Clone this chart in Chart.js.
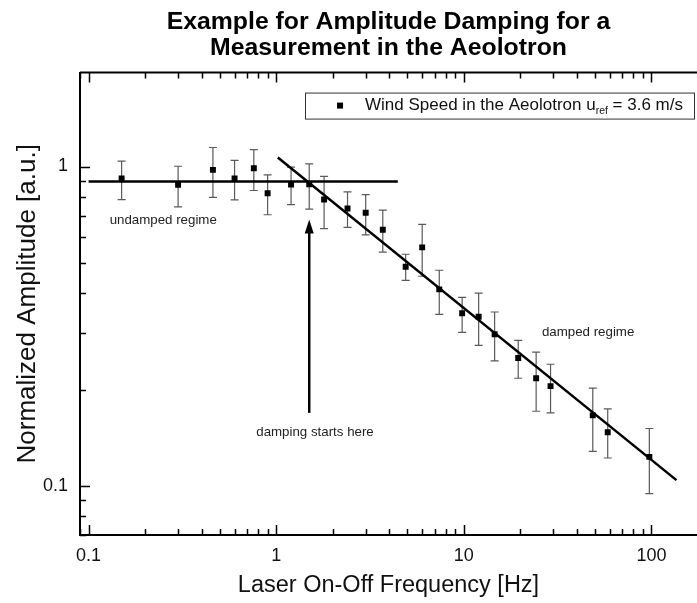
<!DOCTYPE html>
<html>
<head>
<meta charset="utf-8">
<script src="https://cdn.jsdelivr.net/npm/chart.js@4.4.1/dist/chart.umd.min.js"></script>
<style>
  html, body { margin: 0; padding: 0; background: #fff; overflow: hidden; }
  #wrap { position: relative; width: 697px; height: 603px; }
</style>
</head>
<body>
<div id="wrap"><canvas id="chart"></canvas></div>
<script>
// measured points (laser on-off frequency vs normalized amplitude)
const freq      = [0.15, 0.3, 0.46, 0.6, 0.76, 0.9, 1.2, 1.5, 1.8, 2.4, 3, 3.7, 4.9, 6, 7.4, 9.8, 12, 14.6, 19.5, 24.3, 29, 48.7, 58.5, 97.5];
const amplitude = [0.917, 0.876, 0.976, 0.917, 0.988, 0.825, 0.878, 0.880, 0.788, 0.739, 0.716, 0.634, 0.485, 0.558, 0.412, 0.347, 0.338, 0.298, 0.251, 0.217, 0.205, 0.166, 0.147, 0.123];
const ampHigh   = [1.039, 1.002, 1.147, 1.046, 1.13, 0.942, 0.995, 1.02, 0.932, 0.833, 0.817, 0.730, 0.531, 0.659, 0.473, 0.389, 0.401, 0.35, 0.285, 0.262, 0.24, 0.202, 0.174, 0.151];
const ampLow    = [0.788, 0.747, 0.80, 0.786, 0.841, 0.706, 0.76, 0.735, 0.639, 0.645, 0.611, 0.539, 0.44, 0.453, 0.344, 0.302, 0.275, 0.246, 0.217, 0.171, 0.169, 0.128, 0.122, 0.0944];

// fitted lines
const flatX  = [0.1, 4.45];
const flatY  = [0.897, 0.897];
const slopeX = [1.02, 136];
const slopeY = [1.067, 0.104];

// axis ticks
const xTickValues = [0.1, 1, 10, 100];
const xTickLabels = ['0.1', '1', '10', '100'];
const yTickValues = [0.1, 1];
const yTickLabels = ['0.1', '1'];

// annotations
const noteTexts = ['undamped regime', 'damped regime', 'damping starts here'];
const noteX = [0.25, 46, 1.61];
const noteY = [0.677, 0.302, 0.147];
const arrowX = [1.5, 1.5];
const arrowY = [0.169, 0.682];

const legendLabel = ['Wind Speed in the Aeolotron u', 'ref', ' = 3.6 m/s'];

const FONT = '"Liberation Sans", Arial, Helvetica, sans-serif';

function logTicks(min, max) {
    const out = [];
    for (let e = -2; e <= 3; e++) {
        for (let m = 1; m <= 9; m++) {
            const v = parseFloat((m * Math.pow(10, e)).toPrecision(6));
            if (v >= min && v <= max) out.push({ value: v });
        }
    }
    return out;
}

function findMajor(values, v) {
    return values.findIndex(t => Math.abs(t - v) < t * 1e-6);
}

const toPoints = (xs, ys) => xs.map((x, i) => ({ x: x, y: ys[i] }));

// error bars under the markers
const errorBars = {
    id: 'errorBars',
    beforeDatasetsDraw(chart) {
        const { ctx, scales: { x, y } } = chart;
        ctx.save();
        ctx.strokeStyle = '#5a5a5a';
        ctx.lineWidth = 1.2;
        freq.forEach((f, i) => {
            const px = x.getPixelForValue(f);
            const top = y.getPixelForValue(ampHigh[i]);
            const bot = y.getPixelForValue(ampLow[i]);
            ctx.beginPath();
            ctx.moveTo(px, top); ctx.lineTo(px, bot);
            ctx.moveTo(px - 4, top); ctx.lineTo(px + 4, top);
            ctx.moveTo(px - 4, bot); ctx.lineTo(px + 4, bot);
            ctx.stroke();
        });
        ctx.restore();
    }
};

// text notes, arrow, top frame line, inward ticks, legend box
const decorations = {
    id: 'decorations',
    afterDraw(chart) {
        const { ctx, chartArea: a, scales: { x, y } } = chart;
        ctx.save();

        // notes
        ctx.fillStyle = '#222';
        ctx.font = '13.3px ' + FONT;
        ctx.textAlign = 'center';
        ctx.textBaseline = 'middle';
        noteTexts.forEach((t, i) => {
            ctx.fillText(t, x.getPixelForValue(noteX[i]), y.getPixelForValue(noteY[i]));
        });

        // arrow
        const ax = x.getPixelForValue(arrowX[0]);
        const y0 = y.getPixelForValue(arrowY[0]);
        const y1 = y.getPixelForValue(arrowY[1]);
        ctx.strokeStyle = '#000';
        ctx.fillStyle = '#000';
        ctx.lineWidth = 2.5;
        ctx.beginPath();
        ctx.moveTo(ax, y0); ctx.lineTo(ax, y1 + 10);
        ctx.stroke();
        ctx.beginPath();
        ctx.moveTo(ax, y1); ctx.lineTo(ax - 4.5, y1 + 14); ctx.lineTo(ax + 4.5, y1 + 14);
        ctx.closePath();
        ctx.fill();

        // top frame
        ctx.lineWidth = 2;
        ctx.beginPath();
        ctx.moveTo(a.left, a.top); ctx.lineTo(a.right, a.top);
        ctx.stroke();

        // inward ticks
        ctx.lineWidth = 1.5;
        ctx.beginPath();
        x.ticks.forEach(t => {
            const px = Math.round(x.getPixelForValue(t.value)) + 0.5;
            const len = findMajor(xTickValues, t.value) >= 0 ? 10 : 6;
            ctx.moveTo(px, a.bottom); ctx.lineTo(px, a.bottom - len);
            ctx.moveTo(px, a.top); ctx.lineTo(px, a.top + len);
        });
        y.ticks.forEach(t => {
            const py = Math.round(y.getPixelForValue(t.value)) + 0.5;
            const len = findMajor(yTickValues, t.value) >= 0 ? 10 : 6;
            ctx.moveTo(a.left, py); ctx.lineTo(a.left + len, py);
        });
        ctx.stroke();

        // legend
        ctx.font = '17px ' + FONT;
        const w1 = ctx.measureText(legendLabel[0]).width;
        const w3 = ctx.measureText(legendLabel[2]).width;
        ctx.font = '10.5px ' + FONT;
        const w2 = ctx.measureText(legendLabel[1]).width;
        const boxW = 60 + w1 + w2 + w3 + 11;
        const boxR = a.right - 3;
        const boxL = boxR - boxW;
        const boxT = a.top + 20;
        const boxH = 26;
        ctx.lineWidth = 1;
        ctx.strokeStyle = '#333';
        ctx.strokeRect(Math.round(boxL) + 0.5, boxT + 0.5, Math.round(boxW), boxH);
        ctx.fillStyle = '#000';
        ctx.fillRect(boxL + 35 - 3, boxT + 13 - 3, 6, 6);
        ctx.textAlign = 'left';
        ctx.textBaseline = 'middle';
        ctx.fillStyle = '#111';
        ctx.font = '17px ' + FONT;
        let tx = boxL + 60;
        ctx.fillText(legendLabel[0], tx, boxT + 13);
        tx += w1;
        ctx.font = '10.5px ' + FONT;
        ctx.fillText(legendLabel[1], tx, boxT + 19);
        tx += w2;
        ctx.font = '17px ' + FONT;
        ctx.fillText(legendLabel[2], tx, boxT + 13);

        ctx.restore();
    }
};

const ctx = document.getElementById('chart').getContext('2d');

new Chart(ctx, {
    type: 'scatter',
    data: {
        datasets: [
            {
                label: 'Wind Speed in the Aeolotron',
                data: toPoints(freq, amplitude),
                pointStyle: 'rect',
                pointRadius: 4.2,
                backgroundColor: '#000',
                borderColor: '#000',
                borderWidth: 0,
                showLine: false
            },
            {
                label: 'undamped fit',
                data: toPoints(flatX, flatY),
                showLine: true,
                pointRadius: 0,
                borderColor: '#000',
                borderWidth: 2.5
            },
            {
                label: 'damped fit',
                data: toPoints(slopeX, slopeY),
                showLine: true,
                pointRadius: 0,
                borderColor: '#000',
                borderWidth: 2.5
            }
        ]
    },
    options: {
        responsive: true,
        maintainAspectRatio: false,
        animation: false,
        layout: { padding: 0, autoPadding: false },
        plugins: {
            legend: { display: false },
            tooltip: { enabled: false },
            title: {
                display: true,
                fullSize: false,
                text: ['Example for Amplitude Damping for a', 'Measurement in the Aeolotron'],
                color: '#000',
                font: { family: FONT, size: 24.8, weight: 'bold', lineHeight: 1.06 },
                padding: { top: 9, bottom: 11 }
            }
        },
        scales: {
            x: {
                type: 'logarithmic',
                min: 0.09,
                max: 175,
                afterBuildTicks: s => { s.ticks = logTicks(s.min, s.max); },
                afterFit: s => { s.height = 68; },
                grid: { display: false, drawTicks: false },
                border: { display: true, color: '#000', width: 2 },
                ticks: {
                    color: '#111',
                    font: { family: FONT, size: 18 },
                    padding: 10,
                    maxRotation: 0,
                    autoSkip: false,
                    callback: v => { const i = findMajor(xTickValues, v); return i >= 0 ? xTickLabels[i] : ''; }
                },
                title: {
                    display: true,
                    text: 'Laser On-Off Frequency [Hz]',
                    color: '#111',
                    font: { family: FONT, size: 23.5 },
                    padding: { top: 4, bottom: 3 }
                }
            },
            y: {
                type: 'logarithmic',
                min: 0.07,
                max: 1.97,
                afterBuildTicks: s => { s.ticks = logTicks(s.min, s.max); },
                afterFit: s => { s.width = 80; },
                grid: { display: false, drawTicks: false },
                border: { display: true, color: '#000', width: 2 },
                ticks: {
                    color: '#111',
                    font: { family: FONT, size: 18 },
                    padding: 12,
                    autoSkip: false,
                    callback: v => { const i = findMajor(yTickValues, v); return i >= 0 ? yTickLabels[i] : ''; }
                },
                title: {
                    display: true,
                    text: 'Normalized Amplitude [a.u.]',
                    color: '#111',
                    font: { family: FONT, size: 26 },
                    padding: { top: 12, bottom: 4 }
                }
            }
        }
    },
    plugins: [errorBars, decorations]
});
</script>
</body>
</html>
